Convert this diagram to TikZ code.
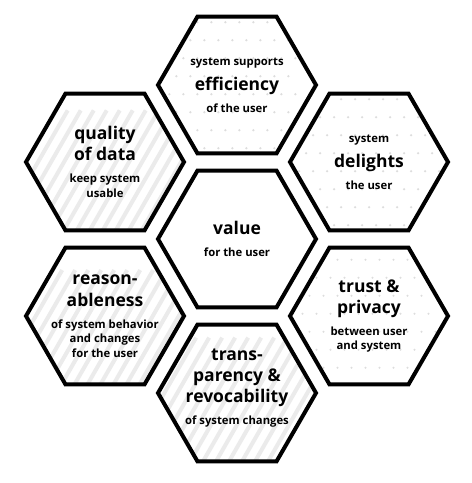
\documentclass[tikz,border=0pt]{standalone}
\usepackage{fontspec}
\setmainfont{Open Sans}
\usetikzlibrary{shapes.geometric}
\definecolor{stripegray}{HTML}{EBEBEB}
\definecolor{dotgray}{HTML}{DDDDDD}
\newcommand{\subfont}{\fontsize{11.3}{14.5}\bfseries}
\newcommand{\titlefont}{\fontsize{17.5}{21}\bfseries}
\lineskiplimit=-100pt
\tikzset{hex/.style={regular polygon, regular polygon sides=6, minimum size=158pt,
   inner sep=-15pt, draw=black, line width=4pt, fill=white, align=center, font=\subfont},
 dotted hex/.style={hex, path picture={
   \foreach \r in {-5,...,5} \foreach \c in {-7,...,7}
     \fill[dotgray, shift={(path picture bounding box.center)}]
       ({\c*14+mod(\r+6,2)*7},\r*18) circle (1.2pt);}},
 striped hex/.style={hex, path picture={
   \foreach \k in {-16,...,16}
     \draw[stripegray, line width=4pt, shift={(path picture bounding box.center)}]
       (\k*13-50,87) -- ++(100,-174);}},
 }

\begin{document}
\begin{tikzpicture}[x=1pt,y=-1pt]
        \useasboundingbox (0,0) rectangle (472,483);
        \node[hex] (value) at (237,239) {{\titlefont value}\\[8pt]for the user};
        \node[dotted hex] (efficiency) at (237,85) {system supports\\[10.5pt]{\titlefont efficiency}\\[7.5pt]of the user};
        \node[dotted hex] (delights) at (369,162) {system\\[10.5pt]{\titlefont delights}\\[7.5pt]the user};
        \node[dotted hex] (trust) at (369,316) {{\titlefont trust \&}\\[6.5pt]{\titlefont privacy}\\[7.5pt]between user\\and system};
        \node[striped hex, text height=66pt] (transparency) at (237,393) {{\titlefont trans-}\\[6.5pt]{\titlefont parency \&}\\[6.5pt]{\titlefont revocability}\\[7.5pt]of system changes};
        \node[striped hex] (reason) at (105,316) {{\titlefont reason-}\\[7pt]{\titlefont ableness}\\[7.5pt]of system behavior\\and changes\\for the user};
        \node[striped hex] (quality) at (105,162) {{\titlefont quality}\\[6.5pt]{\titlefont of data}\\[7.5pt]keep system\\usable};
    \end{tikzpicture}
\end{document}
